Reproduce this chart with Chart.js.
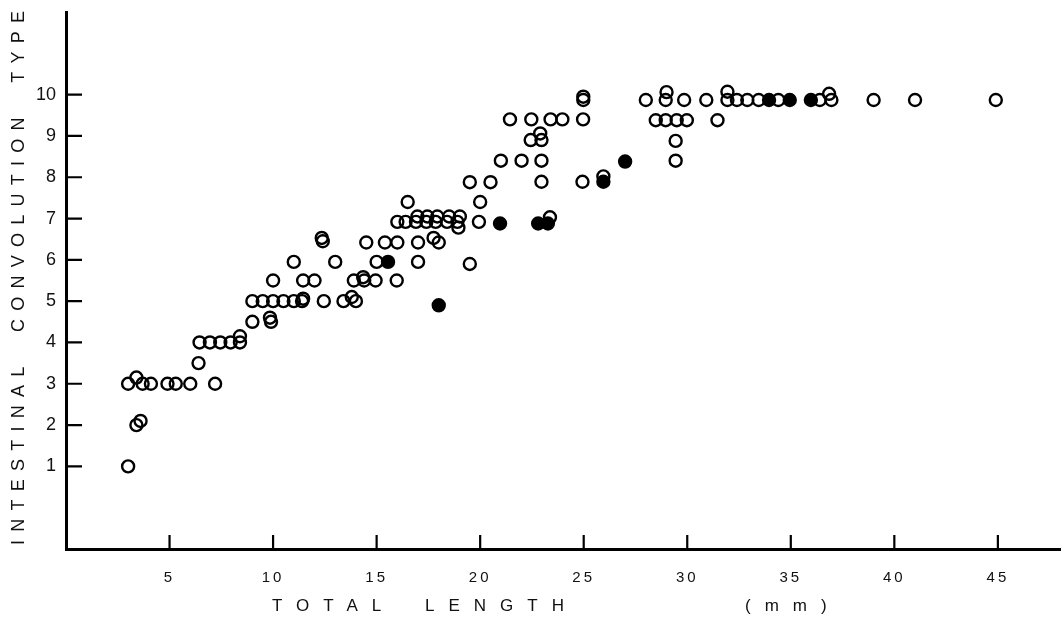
<!DOCTYPE html>
<html>
<head>
<meta charset="utf-8">
<script src="https://cdn.jsdelivr.net/npm/chart.js@4.4.0/dist/chart.umd.min.js"></script>
<style>
  html, body { margin: 0; padding: 0; background: #fff; }
</style>
</head>
<body>
<canvas id="chart" width="1063" height="639"></canvas>
<script>
// open circles: total length (mm) and convolution type
const openLength = [
  3.0, 3.4, 3.6,
  3.0, 3.4, 3.7, 4.1, 4.9, 5.3, 6.0, 7.2, 6.4,
  6.45, 6.95, 7.45, 7.95, 8.4, 8.4,
  9.0, 9.9, 9.85,
  9.0, 9.5, 10.0, 10.5, 11.0, 11.4, 11.45, 12.45, 13.4, 13.8, 14.0,
  10.0, 11.45, 12.0, 13.9, 14.4, 14.35, 14.95, 15.97,
  11.0, 13.0, 15.0, 17.0, 19.5,
  12.35, 12.4, 14.5, 15.4, 16.0, 17.0, 17.75, 18.0,
  16.0, 16.4, 16.9, 17.4, 17.85, 18.4, 18.9, 18.95, 19.94,
  16.97, 17.45, 17.93, 18.5, 19.02, 23.37,
  16.5, 20.0,
  19.5, 20.5, 22.96, 24.94, 25.95,
  21.0, 22.0, 22.96, 29.44,
  22.44, 22.96, 22.9, 29.44,
  21.44, 22.47, 23.4, 23.97, 24.97, 28.48, 28.96, 29.49, 29.98, 31.46,
  24.98, 24.98, 28.0, 28.96, 29.0, 29.85, 30.92, 31.94, 31.94, 32.4, 32.9, 33.45,
  34.4, 36.4, 36.96, 36.85, 39.0, 41.0, 44.9
];
const openType = [
  1.0, 2.0, 2.1,
  3.0, 3.15, 3.0, 3.0, 3.0, 3.0, 3.0, 3.0, 3.5,
  4.0, 4.0, 4.0, 4.0, 4.0, 4.15,
  4.5, 4.5, 4.6,
  5.0, 5.0, 5.0, 5.0, 5.0, 5.0, 5.06, 5.0, 5.0, 5.1, 5.0,
  5.5, 5.5, 5.5, 5.5, 5.5, 5.58, 5.5, 5.5,
  5.95, 5.95, 5.95, 5.95, 5.9,
  6.53, 6.45, 6.42, 6.42, 6.42, 6.42, 6.53, 6.42,
  6.92, 6.92, 6.92, 6.92, 6.92, 6.92, 6.92, 6.78, 6.92,
  7.05, 7.05, 7.05, 7.05, 7.05, 7.03,
  7.4, 7.4,
  7.88, 7.88, 7.89, 7.89, 8.02,
  8.4, 8.4, 8.4, 8.4,
  8.9, 8.9, 9.06, 8.88,
  9.4, 9.4, 9.4, 9.4, 9.4, 9.38, 9.38, 9.38, 9.38, 9.38,
  9.87, 9.95, 9.87, 9.87, 10.06, 9.87, 9.87, 9.87, 10.07, 9.87, 9.87, 9.87,
  9.87, 9.87, 9.87, 10.02, 9.87, 9.87, 9.87
];
// filled circles
const filledLength = [15.55, 18.0, 20.96, 22.8, 23.27, 25.95, 27.0, 33.95, 34.95, 35.97];
const filledType = [5.95, 4.9, 6.88, 6.88, 6.88, 7.89, 8.38, 9.87, 9.87, 9.87];

const xTicks = [5, 10, 15, 20, 25, 30, 35, 40, 45];
const yTicks = [1, 2, 3, 4, 5, 6, 7, 8, 9, 10];

const xTitleWords = ["TOTAL", "LENGTH", "(mm)"];
const yTitle = "INTESTINAL  CONVOLUTION  TYPE";

function toPoints(xs, ys) {
  return xs.map((x, i) => ({ x: x, y: ys[i] }));
}

// draws a string with spacing so it fills a given width
function spacedText(ctx, text, cx, cy, width) {
  ctx.letterSpacing = "0px";
  let w = ctx.measureText(text).width;
  let sp = (width - w) / (text.length - 1);
  ctx.letterSpacing = sp + "px";
  ctx.textAlign = "left";
  ctx.textBaseline = "middle";
  ctx.fillText(text, cx - width / 2, cy);
}

const paperAxes = {
  id: "paperAxes",
  beforeDraw(chart) {
    // x tick labels are spaced out like the printed figure
    chart.ctx.letterSpacing = "3px";
  },
  beforeDatasetsDraw(chart) {
    const ctx = chart.ctx;
    const xs = chart.scales.x, ys = chart.scales.y;
    const a = chart.chartArea;
    ctx.letterSpacing = "0px";
    ctx.save();
    ctx.strokeStyle = "#000";
    ctx.lineWidth = 2.2;
    ctx.beginPath();
    xTicks.forEach(v => {
      let px = xs.getPixelForValue(v);
      ctx.moveTo(px, a.bottom);
      ctx.lineTo(px, a.bottom - 14);
    });
    yTicks.forEach(v => {
      let py = ys.getPixelForValue(v);
      ctx.moveTo(a.left, py);
      ctx.lineTo(a.left + 16, py);
    });
    ctx.stroke();
    ctx.restore();
  },
  afterDraw(chart) {
    const ctx = chart.ctx;
    ctx.save();
    ctx.fillStyle = "#111";
    ctx.font = "17px 'Liberation Sans', Arial, sans-serif";
    ctx.letterSpacing = "14px";
    ctx.textAlign = "left";
    ctx.textBaseline = "middle";
    const starts = [272, 425, 745];
    xTitleWords.forEach((w, i) => ctx.fillText(w, starts[i], 606));
    ctx.translate(19, 278);
    ctx.rotate(-Math.PI / 2);
    ctx.font = "18px 'Liberation Sans', Arial, sans-serif";
    spacedText(ctx, yTitle, 0, 0, 534);
    ctx.restore();
    ctx.letterSpacing = "0px";
  }
};

new Chart(document.getElementById("chart"), {
  type: "scatter",
  data: {
    datasets: [
      {
        data: toPoints(openLength, openType),
        pointRadius: 6,
        pointBorderWidth: 2.4,
        borderColor: "#000",
        backgroundColor: "rgba(0,0,0,0)"
      },
      {
        data: toPoints(filledLength, filledType),
        pointRadius: 6,
        pointBorderWidth: 2.4,
        borderColor: "#000",
        backgroundColor: "#000"
      }
    ]
  },
  options: {
    responsive: false,
    animation: false,
    events: [],
    layout: { autoPadding: false, padding: { top: 12, right: 3, left: 0, bottom: 0 } },
    plugins: { legend: { display: false }, tooltip: { enabled: false } },
    scales: {
      x: {
        type: "linear",
        min: 0, max: 48,
        afterBuildTicks: s => { s.ticks = xTicks.map(v => ({ value: v })); },
        afterFit: s => { s.height = 90; s.paddingLeft = 0; s.paddingRight = 0; },
        grid: { display: false, drawTicks: false },
        border: { display: true, color: "#000", width: 3 },
        ticks: { color: "#111", padding: 20, font: { size: 15, family: "'Liberation Sans', Arial, sans-serif" } }
      },
      y: {
        type: "linear",
        min: -1, max: 12,
        afterBuildTicks: s => { s.ticks = yTicks.map(v => ({ value: v })); },
        afterFit: s => { s.width = 66; s.paddingTop = 0; s.paddingBottom = 0; },
        grid: { display: false, drawTicks: false },
        border: { display: true, color: "#000", width: 3 },
        ticks: { z: 1, color: "#111", padding: 10, font: { size: 18, family: "'Liberation Sans', Arial, sans-serif" } }
      }
    }
  },
  plugins: [paperAxes]
});
</script>
</body>
</html>
